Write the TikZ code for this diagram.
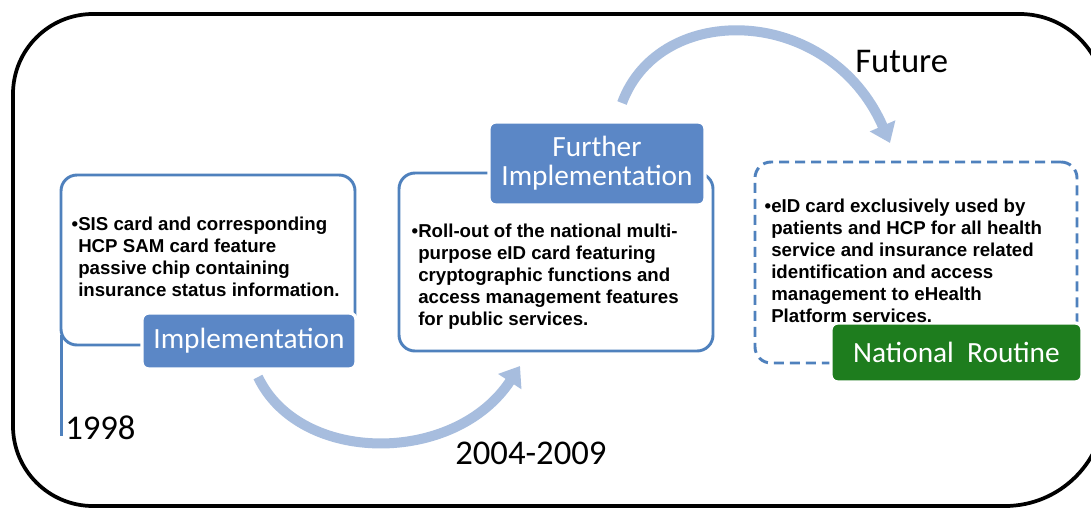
\documentclass[tikz,border=0pt]{standalone}
\usepackage{fontspec}
\setmainfont{Liberation Sans}
\newfontfamily\calfont{Carlito}
\usetikzlibrary{arrows.meta}
\definecolor{boxblue}{RGB}{79,129,189}
\definecolor{labelblue}{RGB}{91,135,198}
\definecolor{arrowblue}{RGB}{167,189,222}
\definecolor{routinegreen}{RGB}{30,125,30}
\tikzset{
  frame/.style={draw=black, line width=2.8pt},
  outline/.style={draw=boxblue, line width=2.2pt, rounded corners=12pt, rectangle, inner sep=0pt},
  dashoutline/.style={outline, dash pattern=on 7.5pt off 4.5pt},
  stagelabel/.style={rectangle, draw=white, line width=2.5pt, rounded corners=5pt, text=white,
    font=\calfont\fontsize{22}{22}\selectfont, align=center, inner sep=0pt},
  bodytext/.style={anchor=north west, align=left, inner sep=0pt, font=\bfseries\fontsize{14}{16.5}\selectfont},
  yeartext/.style={anchor=base west, font=\calfont\fontsize{26}{30}\selectfont, inner sep=0pt},
  flow/.style={draw=arrowblue, line width=7.5pt, -{Triangle[length=14pt,width=20pt]}},
}
\begin{document}
\begin{tikzpicture}[x=0.75pt, y=-0.75pt]
\path[use as bounding box, clip] (0,0) rectangle (1091,507);
\fill[white] (0,0) rectangle (1091,507);
% outer frame (runs past the right edge)
\draw[frame] (13,250) [rounded corners=60pt] -- (13,14) -- (560,14)
  [rounded corners=64pt] -- (1105,14) -- (1105,250)
  [rounded corners=75pt] -- (1105,506) -- (560,506)
  [rounded corners=60pt] -- (13,506) -- cycle;
% content boxes
\node[outline, minimum width=220.5pt, minimum height=127.5pt] (box1) at (208,260) {};
\node[outline, minimum width=235.5pt, minimum height=133.5pt] (box2) at (556,262) {};
\node[dashoutline, minimum width=241.5pt, minimum height=150.75pt] (box3) at (916,262.5) {};
% time line stub
\coordinate (tl1) at (61.5,335);
\coordinate (tl2) at (61.5,436);
\draw[draw=boxblue, line width=2.2pt] (tl1) -- (tl2);
% stage labels
\node[stagelabel, fill=labelblue, minimum width=160.5pt, minimum height=42pt] (impl) at (249,341) {Implementation};
\node[stagelabel, fill=labelblue, minimum width=162pt, minimum height=62.25pt] (further) at (597,163.5) {Further\\Implementation};
\node[stagelabel, fill=routinegreen, minimum width=188.25pt, minimum height=44.25pt] (routine) at (956.5,352.5) {National\ \ Routine};
% body texts
\node[bodytext] (t1) at (78,216.4) {\llap{•}SIS card and corresponding\\HCP SAM card feature\\passive chip containing\\insurance status information.};
\node[bodytext] (t2) at (418,223.4) {\llap{•}Roll-out of the national multi-\\purpose eID card featuring\\cryptographic functions and\\access management features\\for public services.};
\node[bodytext] (t3) at (771,198.4) {\llap{•}eID card exclusively used by\\patients and HCP for all health\\service and insurance related\\identification and access\\management to eHealth\\Platform services.};
% years
\node[yeartext] (y1) at (65,439) {1998};
\node[yeartext] (y2) at (455,464) {2004-2009};
\node[yeartext] (y3) at (855,72) {Future};
% flow arrows
\coordinate (a1s) at (258,377);
\coordinate (a1e) at (520,366);
\coordinate (a2s) at (622,103);
\coordinate (a2e) at (890,143);
\draw[flow] (a1s) .. controls (300,465) and (455,465) .. (a1e);
\draw[flow] (a2s) .. controls (660,0) and (830,5) .. (a2e);
\end{tikzpicture}
\end{document}
